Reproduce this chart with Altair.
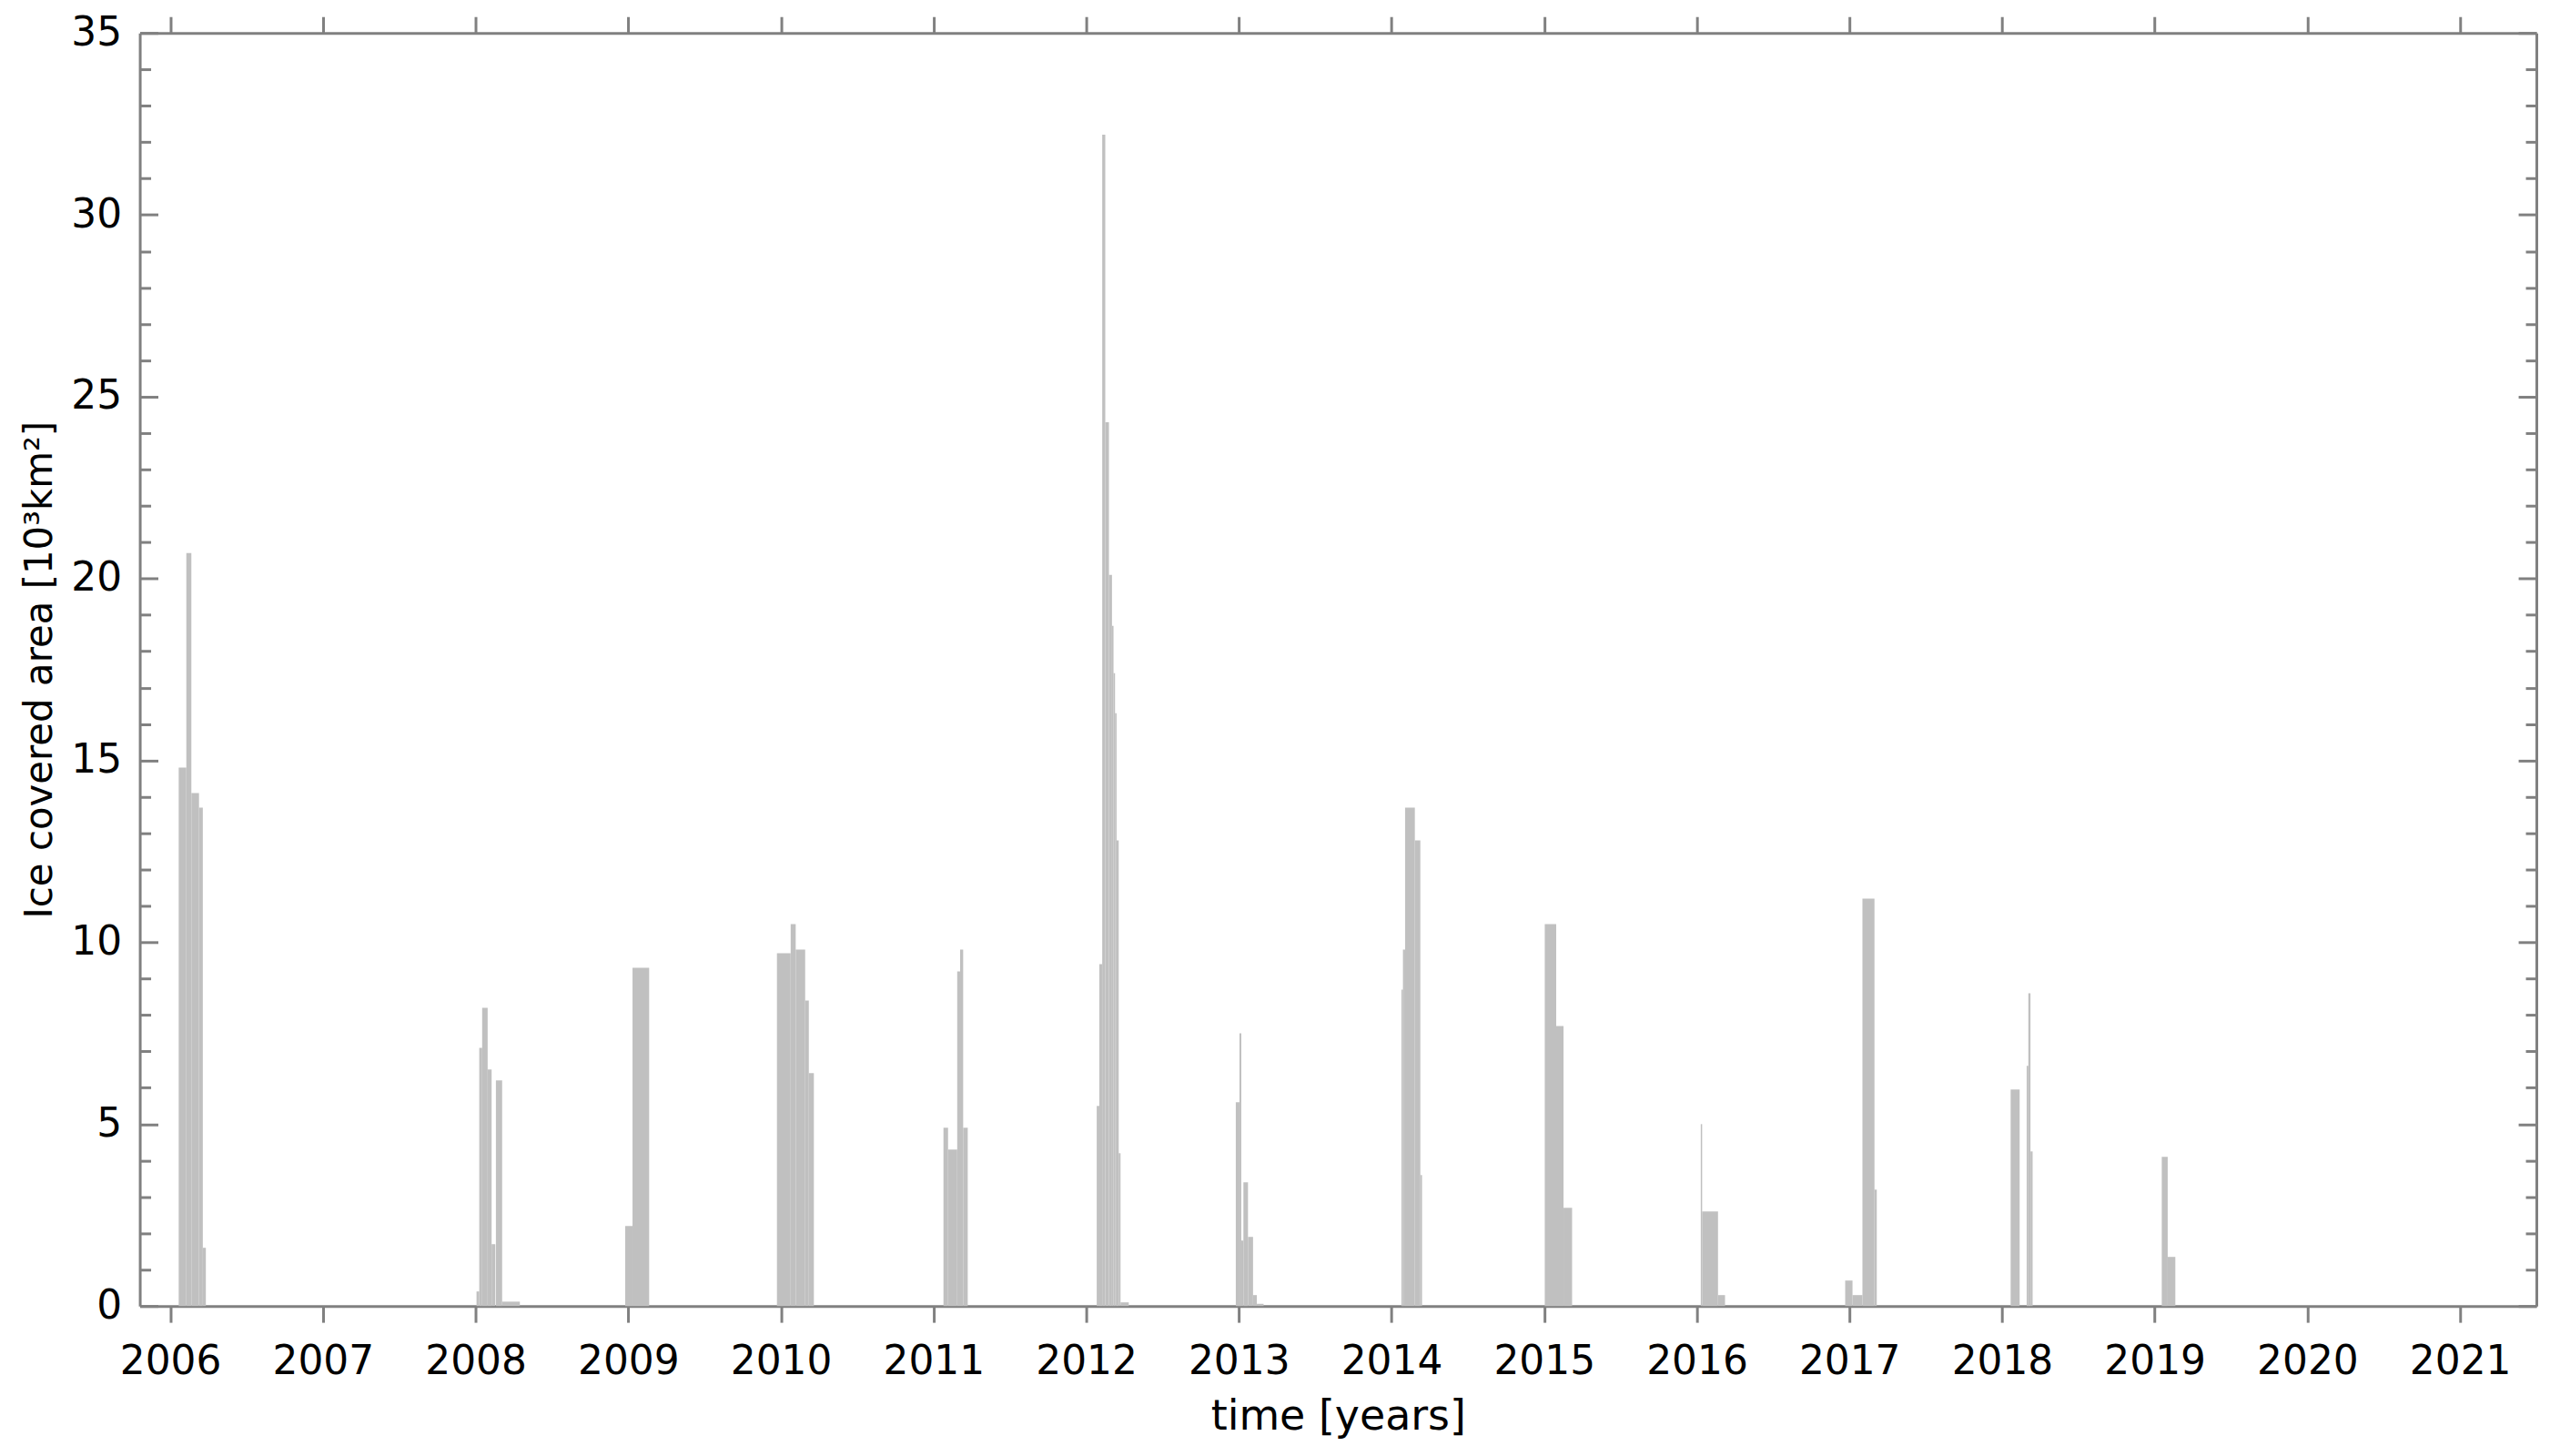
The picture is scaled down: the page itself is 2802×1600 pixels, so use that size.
import altair as alt
import pandas as pd

# Ice-cover bars: start / end (decimal years) and area [10^3 km^2]
bar_start = [
    2006.055, 2006.105, 2006.138, 2006.188, 2006.213,
    2008.006, 2008.024, 2008.043, 2008.079, 2008.105, 2008.133, 2008.174,
    2008.980, 2009.028,
    2009.974, 2010.064, 2010.097, 2010.159, 2010.183,
    2011.065, 2011.095, 2011.155, 2011.174, 2011.194,
    2012.069, 2012.086, 2012.105, 2012.125, 2012.149, 2012.169, 2012.179, 2012.189, 2012.199, 2012.213, 2012.225,
    2012.980, 2013.004, 2013.016, 2013.030, 2013.060, 2013.093, 2013.118,
    2014.065, 2014.075, 2014.089, 2014.153, 2014.189,
    2015.004, 2015.079, 2015.127,
    2016.026, 2016.035, 2016.139,
    2016.972, 2017.020, 2017.085, 2017.164,
    2018.056, 2018.161, 2018.172, 2018.186,
    2019.046, 2019.085,
]
bar_end = [
    2006.105, 2006.138, 2006.188, 2006.213, 2006.233,
    2008.024, 2008.043, 2008.079, 2008.105, 2008.129, 2008.174, 2008.290,
    2009.028, 2009.137,
    2010.064, 2010.097, 2010.159, 2010.183, 2010.216,
    2011.095, 2011.155, 2011.174, 2011.194, 2011.224,
    2012.086, 2012.105, 2012.125, 2012.149, 2012.169, 2012.179, 2012.189, 2012.199, 2012.213, 2012.225, 2012.279,
    2013.004, 2013.016, 2013.030, 2013.060, 2013.093, 2013.118, 2013.162,
    2014.075, 2014.089, 2014.153, 2014.189, 2014.200,
    2015.079, 2015.127, 2015.183,
    2016.035, 2016.139, 2016.185,
    2017.020, 2017.085, 2017.164, 2017.179,
    2018.115, 2018.172, 2018.186, 2018.200,
    2019.085, 2019.135,
]
bar_area = [
    14.8, 20.7, 14.1, 13.7, 1.6,
    0.4, 7.1, 8.2, 6.5, 1.7, 6.2, 0.12,
    2.2, 9.3,
    9.7, 10.5, 9.8, 8.4, 6.4,
    4.9, 4.3, 9.2, 9.8, 4.9,
    5.5, 9.4, 32.2, 24.3, 20.1, 18.7, 17.4, 16.3, 12.8, 4.2, 0.1,
    5.6, 7.5, 1.8, 3.4, 1.9, 0.3, 0.06,
    8.7, 9.8, 13.7, 12.8, 3.6,
    10.5, 7.7, 2.7,
    5.0, 2.6, 0.3,
    0.7, 0.3, 11.2, 3.2,
    5.95, 6.6, 8.6, 4.25,
    4.1, 1.35,
]

year_ticks = list(range(2006, 2022))
y_minor_ticks = list(range(0, 36))
y_major_ticks = list(range(0, 36, 5))

df = pd.DataFrame({"start": bar_start, "end": bar_end, "area": bar_area})

W = 2641
H = 1403
FONT = "DejaVu Sans"
GREY = "#808080"

xscale = alt.Scale(domain=[2005.8, 2021.5], nice=False, zero=False)
yscale = alt.Scale(domain=[0, 35], nice=False, zero=True)

tick_len = {"condition": {"test": "datum.value % 5 === 0", "value": 20}, "value": 12}

base = alt.Chart(df)

# Layer 1: bars, bottom x axis with labels, left y axis with labels
bars = base.mark_rect(color="#c0c0c0", strokeWidth=0).encode(
    x=alt.X("start:Q", scale=xscale, axis=alt.Axis(
        orient="bottom", values=year_ticks, format="d", title="time [years]",
        tickSize=18, tickWidth=3, tickColor=GREY, domainColor=GREY, domainWidth=3,
        labelFontSize=44, labelFont=FONT, labelColor="black", labelPadding=22,
        labelFlush=False, labelOverlap=False,
        titleFontSize=46, titleFont=FONT, titleFontWeight="normal", titleColor="black",
        titlePadding=16, grid=False)),
    x2="end:Q",
    y=alt.Y("area:Q", scale=yscale, axis=alt.Axis(
        orient="left", values=y_major_ticks, title="Ice covered area [10³km²]",
        ticks=False, tickSize=0, domainColor=GREY, domainWidth=3,
        labelFontSize=44, labelFont=FONT, labelColor="black", labelPadding=20,
        labelOverlap=False,
        titleFontSize=42, titleFont=FONT, titleFontWeight="normal", titleColor="black",
        titlePadding=12, grid=False)),
    y2=alt.datum(0),
)

# Layer 2: invisible, top x axis (outward ticks), inward ticks on left edge
frame_top_left = base.mark_rect(opacity=0).encode(
    x=alt.X("start:Q", scale=xscale, axis=alt.Axis(
        orient="top", values=year_ticks, labels=False, title=None,
        tickSize=18, tickWidth=3, tickColor=GREY, domainColor=GREY, domainWidth=3,
        grid=False)),
    x2="end:Q",
    y=alt.Y("area:Q", scale=yscale, axis=alt.Axis(
        orient="right", offset=-W, values=y_minor_ticks, labels=False, title=None,
        domain=False, tickSize=tick_len, tickWidth=3, tickColor=GREY, grid=False)),
    y2=alt.datum(0),
)

# Layer 3: invisible, right frame with inward ticks
frame_right = base.mark_rect(opacity=0).encode(
    x=alt.X("start:Q", scale=xscale, axis=None),
    x2="end:Q",
    y=alt.Y("area:Q", scale=yscale, axis=alt.Axis(
        orient="left", offset=-W, values=y_minor_ticks, labels=False, title=None,
        domain=True, domainColor=GREY, domainWidth=3,
        tickSize=tick_len, tickWidth=3, tickColor=GREY, grid=False)),
    y2=alt.datum(0),
)

chart = alt.layer(bars, frame_top_left, frame_right).resolve_axis(
    x="independent", y="independent"
).properties(
    width=W, height=H,
    padding={"left": 15, "top": 4, "right": 5, "bottom": 5},
    background="white",
).configure_view(stroke=None)

chart.save("out.html", embed_options={"renderer": "svg", "actions": False})
